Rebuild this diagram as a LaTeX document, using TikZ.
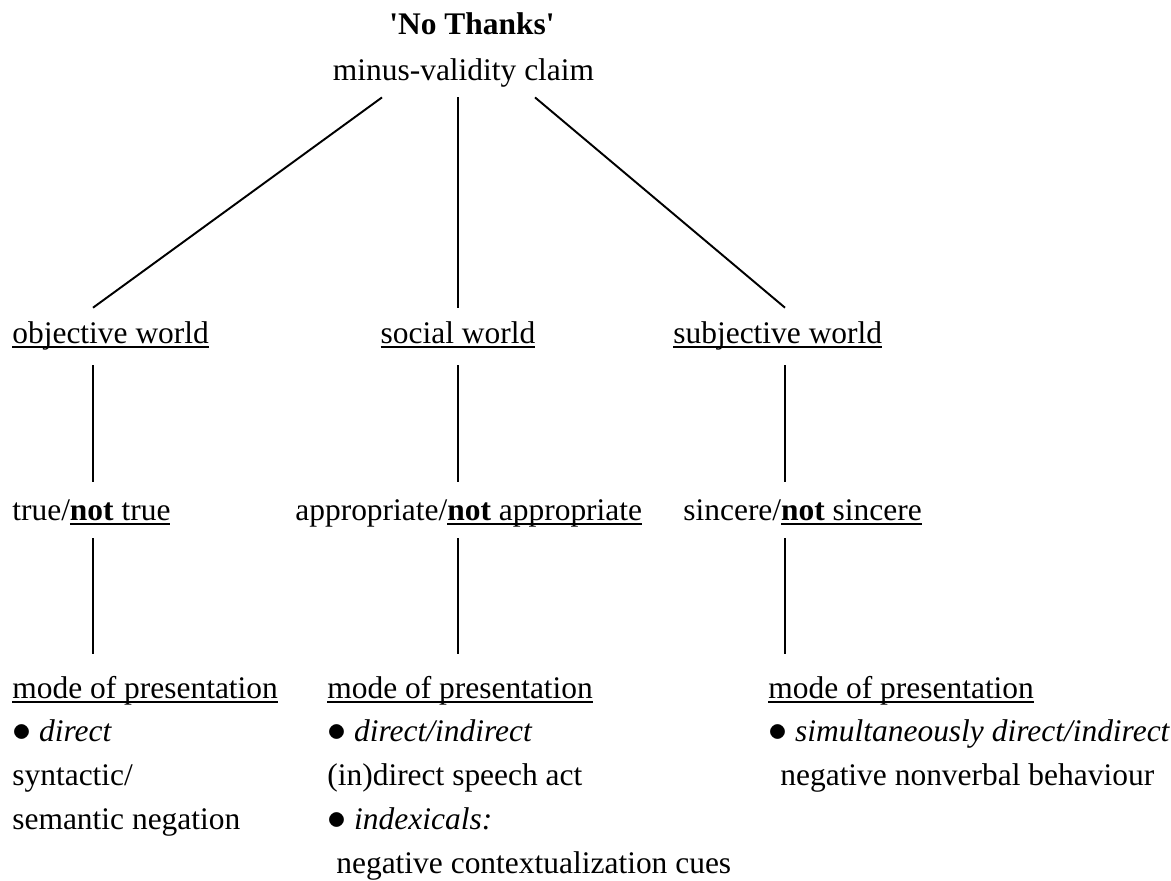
\documentclass[tikz,border=0pt]{standalone}
\usepackage{fontspec}
\setmainfont{Liberation Serif}
\usetikzlibrary{calc}

\newlength\undlwd
\newcommand\undl[1]{\settowidth\undlwd{#1}\rlap{\rule[-3pt]{\undlwd}{1.1pt}}#1}
\newcommand\bul{\scalebox{1.25}{$\bullet$}}

\begin{document}
\begin{tikzpicture}[
  x=0.2mm, y=-0.2mm,
  every node/.style={font=\fontsize{17.9}{25}\selectfont, inner sep=0pt},
  lbl/.style={anchor=base west, text height=12.2pt, text depth=3.9pt},
  ctr/.style={anchor=base, text height=12.2pt, text depth=3.9pt},
  block/.style={anchor=north west, align=left},
  link/.style={line width=1.1pt},
  drop/.style={link, shorten <=3.04mm, shorten >=3.3mm},
  drop2/.style={link, shorten <=2.24mm, shorten >=4.3mm},
]

\useasboundingbox (0,0) rectangle (1171,880);

\coordinate (c1) at (93,0);
\coordinate (c2) at (458,0);
\coordinate (c3) at (785,0);

\node[ctr,font=\fontsize{17.9}{25}\selectfont\bfseries] (title) at (472,34) {\textquotesingle No Thanks\textquotesingle};
\node[ctr] (claim) at (463.5,80) {minus-validity claim};

\node[lbl] (obj) at (12,343) {\undl{objective world}};
\node[ctr] (soc) at (458,343) {\undl{social world}};
\node[lbl] (subj) at (673,343) {\undl{subjective world}};

\node[lbl] (tru) at (12,520) {true/\undl{\textbf{not} true}};
\node[lbl] (appr) at (295,520) {appropriate/\undl{\textbf{not} appropriate}};
\node[lbl] (sinc) at (683,520) {sincere/\undl{\textbf{not} sincere}};

\node[block] (modeA) at (12,675.5) {\undl{mode of presentation}\\
  \bul\ \textit{direct}\\
  syntactic/\\
  semantic negation};
\node[block] (modeB) at (327,675.5) {\undl{mode of presentation}\\
  \bul\ \textit{direct/indirect}\\
  (in)direct speech act\\
  \bul\ \textit{indexicals:}\\
  \hspace*{1.8mm}negative contextualization cues};
\node[block] (modeC) at (768,675.5) {\undl{mode of presentation}\\
  \bul\ \textit{simultaneously direct/indirect}\\
  \hspace*{2.4mm}negative nonverbal behaviour};

% claim to the three worlds
\draw[link] ($(claim.south)+(-81.5,10.2)$) -- ($(obj.north -| c1)+(0,-13.5)$);
\draw[link] ($(claim.south -| c2)+(0,10.2)$) -- ($(soc.north)+(0,-13.5)$);
\draw[link] ($(claim.south)+(71.5,10.2)$) -- ($(subj.north -| c3)+(0,-13.5)$);

\draw[drop] (obj.south -| c1) -- (tru.north -| c1);
\draw[drop] (soc.south) -- (appr.north -| c2);
\draw[drop] (subj.south -| c3) -- (sinc.north -| c3);

\draw[drop2] (tru.south -| c1) -- (modeA.north -| c1);
\draw[drop2] (appr.south -| c2) -- (modeB.north -| c2);
\draw[drop2] (sinc.south -| c3) -- (modeC.north -| c3);

\end{tikzpicture}
\end{document}
